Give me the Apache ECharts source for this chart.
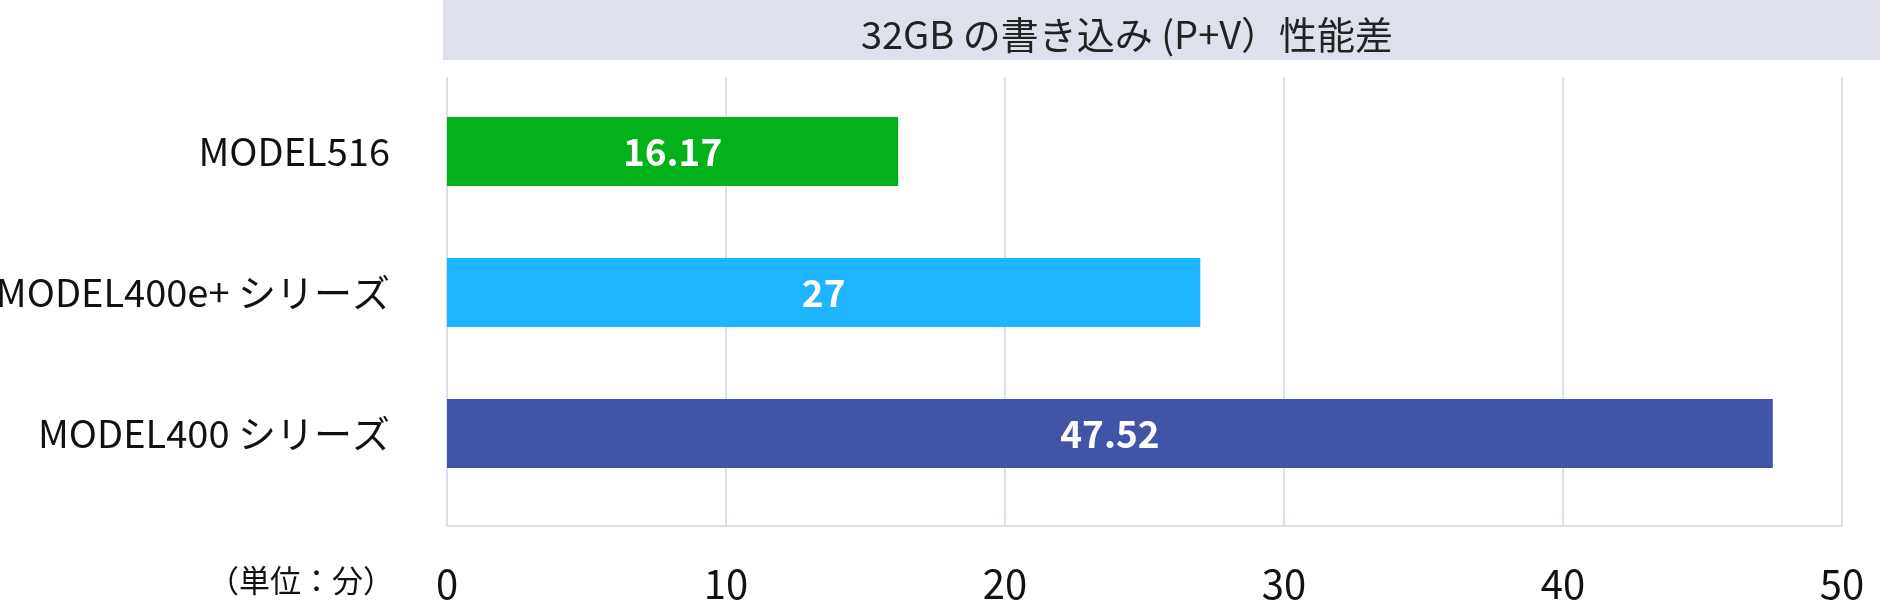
<!DOCTYPE html>
<html>
<head>
    <meta charset="utf-8">
    <title>32GB の書き込み (P+V）性能差</title>
    <script src="https://cdn.jsdelivr.net/npm/echarts@6/dist/echarts.min.js"></script>
    <style>
        html, body { margin: 0; padding: 0; background: #fff; }
        #chart { width: 1880px; height: 600px; }
    </style>
</head>
<body>
<div id="chart"></div>
<script>
    // データ
    var categories = ['MODEL516', 'MODEL400e+ シリーズ', 'MODEL400 シリーズ'];
    var values = [16.17, 27, 47.52];
    var barColors = ['#03b21a', '#1eb4ff', '#4154a8'];
    var titleText = '32GB の書き込み (P+V）性能差';
    var unitText = '（単位：分）';
    var axisMin = 0, axisMax = 50, axisStep = 10;

    var font = '"Noto Sans CJK JP", "Noto Sans", sans-serif';
    var mychart = echarts.init(document.getElementById('chart'), null, { renderer: 'canvas' });

    var option = {
        animation: false,
        title: {
            text: titleText,
            left: 1122,
            top: 30,
            textAlign: 'center',
            textVerticalAlign: 'middle',
            textStyle: { fontFamily: font, fontSize: 38, fontWeight: 'normal', color: '#222' }
        },
        graphic: [
            // タイトル背景
            { type: 'rect', left: 443, top: 0, z: -1, shape: { width: 1437, height: 60 }, style: { fill: '#dde1eb' } },
            { type: 'text', left: 208, top: 565, style: { text: unitText, font: '31px ' + font, fill: '#111' } }
        ],
        // グリッド線用と棒グラフ用の2つ
        grid: [
            { left: 447, right: 38, top: 77, bottom: 74, outerBoundsMode: 'none' },
            { left: 447, right: 38, top: 81, bottom: 96, outerBoundsMode: 'none' }
        ],
        xAxis: [{
            gridIndex: 0, type: 'value', min: axisMin, max: axisMax, interval: axisStep,
            axisLine: { show: true, lineStyle: { color: '#dde0ea', width: 2 } },
            axisTick: { show: false },
            splitLine: { lineStyle: { color: '#dde0ea', width: 2 } },
            axisLabel: { margin: 38, fontFamily: font, fontSize: 40, color: '#111' }
        }, {
            gridIndex: 1, type: 'value', min: axisMin, max: axisMax, show: false
        }],
        yAxis: [{
            gridIndex: 0, type: 'category', data: categories, inverse: true, show: false
        }, {
            gridIndex: 1, type: 'category', data: categories, inverse: true,
            axisLine: { show: false },
            axisTick: { show: false },
            axisLabel: { margin: 57, fontFamily: font, fontSize: 38, color: '#111' }
        }],
        series: [{
            type: 'bar',
            xAxisIndex: 1,
            yAxisIndex: 1,
            barWidth: 69,
            data: values.map(function (v, i) {
                return { value: v, itemStyle: { color: barColors[i] } };
            }),
            label: {
                show: true,
                position: 'inside',
                fontFamily: font,
                fontSize: 37,
                fontWeight: 'bold',
                color: '#fff'
            }
        }]
    };
    mychart.setOption(option);
</script>
</body>
</html>
